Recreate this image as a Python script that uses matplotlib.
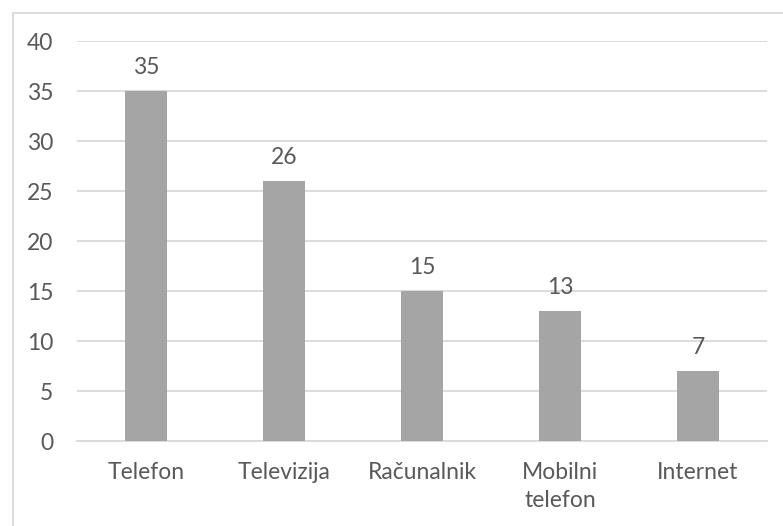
import matplotlib
matplotlib.use("Agg")
import matplotlib.pyplot as plt
from matplotlib.patches import Rectangle

# podatki
kategorije = ["Telefon", "Televizija", "Računalnik", "Mobilni\ntelefon", "Internet"]
vrednosti = [35, 26, 15, 13, 7]
y_ticks = [0, 5, 10, 15, 20, 25, 30, 35, 40]

plt.rcParams["font.family"] = ["Lato", "DejaVu Sans"]
text_color = "#595959"
grid_color = "#d9d9d9"
bar_color = "#a5a5a5"
font_size = 16.5

fig = plt.figure(figsize=(7.83, 5.26), dpi=100)

# okvir grafa
W, H = 783, 526
fig.patches.append(Rectangle((12.5 / W, -0.1), 1.2, (H - 12.5) / H + 0.1,
                             transform=fig.transFigure, fill=False,
                             edgecolor=grid_color, linewidth=1.3))

ax = fig.add_axes([77 / W, 1 - 441 / H, (767 - 77) / W, 400 / H])

x = range(len(kategorije))
bars = ax.bar(x, vrednosti, width=0.31, color=bar_color, zorder=3)

for b, v in zip(bars, vrednosti):
    ax.annotate(str(v), (b.get_x() + b.get_width() / 2, v),
                xytext=(0, 17), textcoords="offset points",
                ha="center", va="center", fontsize=font_size, color=text_color)

ax.set_xlim(-0.5, len(kategorije) - 0.5)
ax.set_ylim(0, 40)
ax.set_yticks(y_ticks)
ax.set_xticks(list(x))
ax.set_xticklabels(kategorije, linespacing=1.45)

ax.yaxis.grid(True, color=grid_color, linewidth=1.3, zorder=0)
for s in ["top", "right", "left"]:
    ax.spines[s].set_visible(False)
ax.spines["bottom"].set_color(grid_color)
ax.spines["bottom"].set_linewidth(1.3)

ax.tick_params(axis="both", length=0, labelsize=font_size, labelcolor=text_color)
ax.tick_params(axis="y", pad=17)
ax.tick_params(axis="x", pad=15)

fig.savefig("out.png", dpi=100)
